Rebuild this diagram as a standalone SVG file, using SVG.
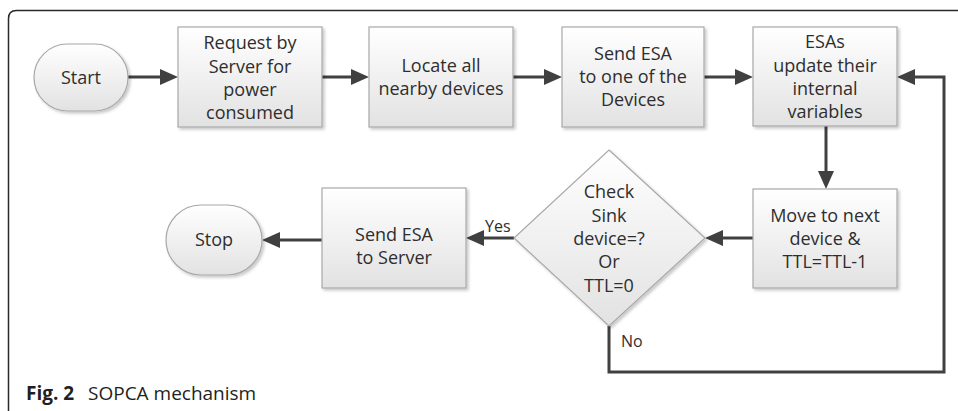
<svg xmlns="http://www.w3.org/2000/svg" width="958" height="411" viewBox="0 0 958 411">
  <defs>
    <linearGradient id="boxFill" x1="0" y1="0" x2="0" y2="1">
      <stop offset="0" stop-color="#ffffff"/>
      <stop offset="1" stop-color="#e2e2e2"/>
    </linearGradient>
    <filter id="shadow" x="-10%" y="-10%" width="125%" height="125%">
      <feDropShadow dx="2" dy="2" stdDeviation="1.5" flood-color="#000" flood-opacity="0.22"/>
    </filter>
    <marker id="arrow" markerUnits="userSpaceOnUse" markerWidth="18" markerHeight="16" refX="8" refY="8" orient="auto">
      <path d="M0,0 L18,8 L0,16 Z" fill="#404040"/>
    </marker>
  </defs>
  <style>
    .shape { fill: url(#boxFill); stroke: #a8a8a8; stroke-width: 1.2; filter: url(#shadow); }
    .label { font-family: "Open Sans", "Noto Sans", sans-serif; font-size: 18px; fill: #2e2e2e; text-anchor: middle; }
    .small { font-family: "Open Sans", "Noto Sans", sans-serif; font-size: 16px; fill: #2e2e2e; }
    .conn { fill: none; stroke: #404040; stroke-width: 3; marker-end: url(#arrow); }
    .frame { fill: none; stroke: #2a2a2a; stroke-width: 1.5; }
    .caption { font-family: "Open Sans", "Noto Sans", sans-serif; font-size: 19px; fill: #231f20; }
  </style>

  <rect width="958" height="411" fill="#ffffff"/>

  <!-- figure frame: top and left rules with rounded corner -->
  <path class="frame" d="M8.5,411 L8.5,18.5 Q8.5,10.5 16.5,10.5 L958,10.5"/>

  <!-- connectors -->
  <g id="connectors">
    <path class="conn" d="M128,77 L168,77"/>
    <path class="conn" d="M322,77 L359,77"/>
    <path class="conn" d="M513,77 L552,77"/>
    <path class="conn" d="M704,77 L743,77"/>
    <path class="conn" d="M826,126 L826,179"/>
    <path class="conn" d="M753,238 L715,238"/>
    <path class="conn" d="M514,238 L476,238"/>
    <path class="conn" d="M322,240 L272,240"/>
    <path class="conn" d="M609,326 L609,372 L944,372 L944,77 L907,77"/>
    <text class="small" x="485" y="232">Yes</text>
    <text class="small" x="621" y="347">No</text>
  </g>

  <g id="start">
    <rect class="shape" x="34" y="44" width="94" height="67" rx="33.5" ry="33.5"/>
    <text class="label" x="81" y="84">Start</text>
  </g>

  <g id="request">
    <rect class="shape" x="178" y="27" width="144" height="100"/>
    <text class="label" x="250" y="49">Request by</text>
    <text class="label" x="250" y="73">Server for</text>
    <text class="label" x="250" y="96">power</text>
    <text class="label" x="250" y="119">consumed</text>
  </g>

  <g id="locate">
    <rect class="shape" x="369" y="27" width="144" height="100"/>
    <text class="label" x="441" y="72">Locate all</text>
    <text class="label" x="441" y="95">nearby devices</text>
  </g>

  <g id="send-device">
    <rect class="shape" x="562" y="27" width="142" height="100"/>
    <text class="label" x="633" y="60">Send ESA</text>
    <text class="label" x="633" y="83">to one of the</text>
    <text class="label" x="633" y="106">Devices</text>
  </g>

  <g id="update">
    <rect class="shape" x="753" y="27" width="144" height="99"/>
    <text class="label" x="825" y="48">ESAs</text>
    <text class="label" x="825" y="72">update their</text>
    <text class="label" x="825" y="95">internal</text>
    <text class="label" x="825" y="118">variables</text>
  </g>

  <g id="move">
    <rect class="shape" x="753" y="189" width="144" height="99"/>
    <text class="label" x="825" y="222">Move to next</text>
    <text class="label" x="825" y="245">device &amp;</text>
    <text class="label" x="825" y="268">TTL=TTL-1</text>
  </g>

  <g id="check">
    <polygon class="shape" points="609,150 705,238 609,326 514,238"/>
    <text class="label" x="609" y="198">Check</text>
    <text class="label" x="609" y="222">Sink</text>
    <text class="label" x="609" y="245">device=?</text>
    <text class="label" x="609" y="268">Or</text>
    <text class="label" x="609" y="292">TTL=0</text>
  </g>

  <g id="send-server">
    <rect class="shape" x="322" y="188" width="144" height="100"/>
    <text class="label" x="394" y="241">Send ESA</text>
    <text class="label" x="394" y="264">to Server</text>
  </g>

  <g id="stop">
    <rect class="shape" x="166" y="205" width="96" height="70" rx="35" ry="35"/>
    <text class="label" x="214" y="246">Stop</text>
  </g>

  <text class="caption" x="26" y="400"><tspan font-weight="bold">Fig. 2</tspan><tspan x="88">SOPCA mechanism</tspan></text>
</svg>
